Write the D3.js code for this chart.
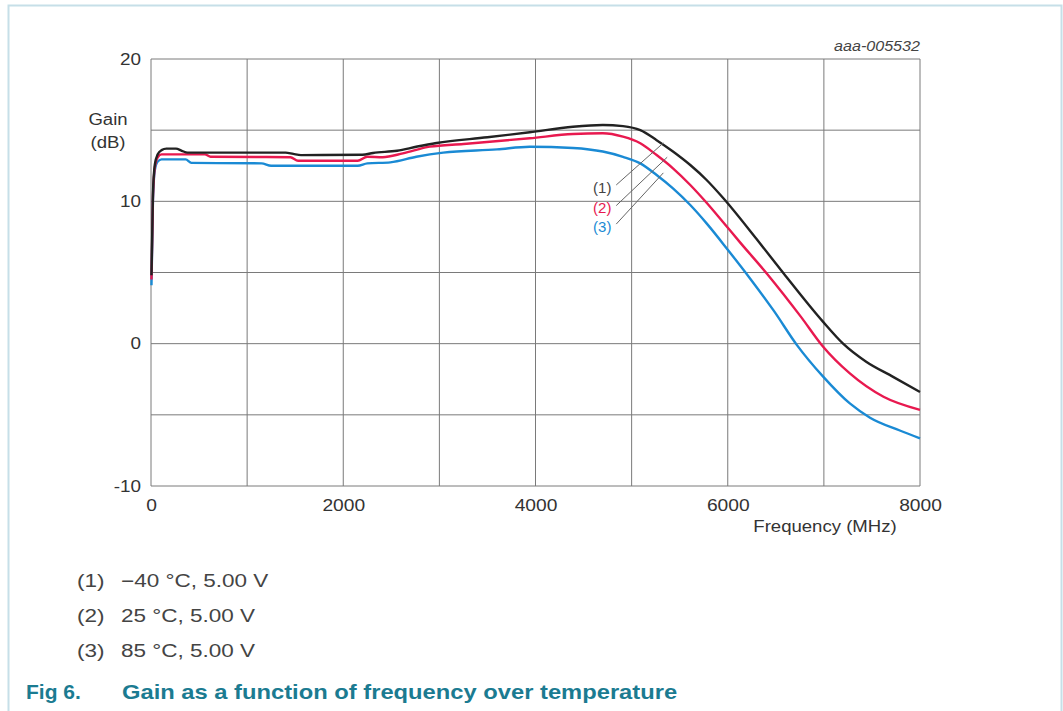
<!DOCTYPE html>
<html>
<head>
<meta charset="utf-8">
<script src="https://cdn.jsdelivr.net/npm/d3@7"></script>
<style>
  body { margin: 0; background: #fff; }
  text { font-family: "Liberation Sans", Arial, sans-serif; }
</style>
</head>
<body>
<div id="chart-div"></div>
<script>
// series (1) -40 C
const freq1 = [5, 20, 40, 70, 110, 160, 260, 320, 380, 1400, 1480, 1560, 2200, 2310, 2560, 2770, 2970, 3500, 3940, 4390, 4700, 4910, 5090, 5260, 5430, 5610, 5780, 5950, 6300, 6580, 6990, 7200, 7440, 7720, 8000];
const gain1 = [4.8, 10.5, 12.6, 13.3, 13.6, 13.7, 13.7, 13.55, 13.42, 13.42, 13.33, 13.25, 13.27, 13.4, 13.55, 13.85, 14.1, 14.5, 14.85, 15.24, 15.36, 15.28, 15.0, 14.3, 13.5, 12.55, 11.5, 10.25, 7.35, 4.95, 1.55, 0.0, -1.27, -2.33, -3.4];
// series (2) 25 C
const freq2 = [5, 20, 40, 70, 110, 560, 620, 1450, 1530, 2150, 2250, 2410, 2620, 2900, 3250, 3940, 4390, 4700, 4910, 5090, 5260, 5430, 5610, 5780, 5950, 6130, 6410, 6760, 6990, 7270, 7620, 8000];
const gain2 = [4.5, 10.2, 12.4, 13.1, 13.3, 13.3, 13.13, 13.1, 12.85, 12.85, 13.13, 13.1, 13.37, 13.84, 14.03, 14.43, 14.73, 14.78, 14.54, 14.08, 13.25, 12.32, 11.15, 9.9, 8.55, 7.1, 4.9, 1.9, -0.2, -2.09, -3.73, -4.65];
// series (3) 85 C
const freq3 = [5, 20, 40, 70, 110, 360, 420, 1150, 1250, 2150, 2250, 2490, 2760, 3040, 3600, 3940, 4390, 4700, 4910, 5090, 5260, 5430, 5610, 5780, 6000, 6230, 6480, 6720, 6990, 7270, 7480, 7790, 8000];
const gain3 = [4.1, 10.0, 12.2, 12.8, 12.95, 12.95, 12.7, 12.67, 12.5, 12.5, 12.67, 12.74, 13.13, 13.42, 13.65, 13.84, 13.75, 13.5, 13.13, 12.67, 11.85, 10.91, 9.74, 8.45, 6.6, 4.6, 2.3, -0.1, -2.3, -4.2, -5.2, -6.1, -6.65];

const seriesTags = ["(1)", "(2)", "(3)"];
const seriesColors = ["#222222", "#e8194f", "#1a8ad4"];
const legendText = ["\u221240 \u00b0C, 5.00 V", "25 \u00b0C, 5.00 V", "85 \u00b0C, 5.00 V"];
const tagAt = [[4790, 10.95], [4790, 9.5], [4790, 8.2]];
const leaderFrom = [[4840, 11.15], [4840, 9.7], [4840, 8.4]];
const leaderTo = [[5330, 14.1], [5370, 13.1], [5330, 12.0]];

const xTicks = [0, 2000, 4000, 6000, 8000];
const yTicks = [-10, 0, 10, 20];
const xGrid = [0, 1000, 2000, 3000, 4000, 5000, 6000, 7000, 8000];
const yGrid = [-10, -5, 0, 5, 10, 15, 20];

const width = 1063, height = 711;
const svg = d3.select('#chart-div').append('svg')
  .attr('width', width).attr('height', height);

// the source text is drawn a bit wider than the font, so widen it to match
const stretch = (sel, k) => sel.each(function() {
  const w = this.getComputedTextLength();
  d3.select(this).attr('textLength', w * k).attr('lengthAdjust', 'spacingAndGlyphs');
});

// page frame
svg.append('rect')
  .attr('x', 8.5).attr('y', 5.5)
  .attr('width', 1053).attr('height', 720)
  .attr('fill', 'none').attr('stroke', '#c6dfe8').attr('stroke-width', 2);

const xScale = d3.scaleLinear().domain([0, 8000]).range([151, 920]);
const yScale = d3.scaleLinear().domain([-10, 20]).range([486, 59]);

const g = svg.append('g');

// grid
g.selectAll('.vgrid').data(xGrid).enter().append('line')
  .attr('x1', d => xScale(d)).attr('x2', d => xScale(d))
  .attr('y1', yScale(-10)).attr('y2', yScale(20))
  .attr('stroke', '#7a7a7a').attr('stroke-width', 1);
g.selectAll('.hgrid').data(yGrid).enter().append('line')
  .attr('y1', d => yScale(d)).attr('y2', d => yScale(d))
  .attr('x1', xScale(0)).attr('x2', xScale(8000))
  .attr('stroke', '#7a7a7a').attr('stroke-width', 1);

// axes (labels only)
const xAxis = d3.axisBottom(xScale).tickValues(xTicks).tickSize(0).tickPadding(14).tickFormat(d3.format('d'));
const xAxisG = g.append('g').attr('transform', `translate(0,${yScale(-10)})`).call(xAxis);
xAxisG.select('.domain').remove();
xAxisG.selectAll('text').attr('font-size', '16px').attr('fill', '#333')
  .style('font-family', '"Liberation Sans", Arial, sans-serif');
stretch(xAxisG.selectAll('text'), 1.2);

const yAxis = d3.axisLeft(yScale).tickValues(yTicks).tickSize(0).tickPadding(10).tickFormat(d => d < 0 ? '-' + (-d) : d);
const yAxisG = g.append('g').attr('transform', `translate(${xScale(0)},0)`).call(yAxis);
yAxisG.select('.domain').remove();
yAxisG.selectAll('text').attr('font-size', '16px').attr('fill', '#333')
  .style('font-family', '"Liberation Sans", Arial, sans-serif');
stretch(yAxisG.selectAll('text'), 1.18);

// axis titles
const titles = g.append('g').attr('font-size', '16px').attr('fill', '#333');
titles.append('text').attr('x', 108).attr('y', 125).attr('text-anchor', 'middle').text('Gain');
titles.append('text').attr('x', 108).attr('y', 148).attr('text-anchor', 'middle').text('(dB)');
titles.append('text').attr('x', 825).attr('y', 532).attr('text-anchor', 'middle').text('Frequency (MHz)');
stretch(titles.selectAll('text'), 1.16);
const code = g.append('text').attr('x', 920).attr('y', 51).attr('text-anchor', 'end')
  .attr('font-size', '14px').attr('font-style', 'italic').attr('fill', '#444').text('aaa-005532');
stretch(code, 1.15);

// curves
const line = d3.line()
  .x(d => xScale(d[0])).y(d => yScale(d[1]))
  .curve(d3.curveMonotoneX);
const series = [d3.zip(freq1, gain1), d3.zip(freq2, gain2), d3.zip(freq3, gain3)];
// draw blue first, black on top
[2, 1, 0].forEach(i => {
  g.append('path').datum(series[i])
    .attr('d', line)
    .attr('fill', 'none')
    .attr('stroke', seriesColors[i])
    .attr('stroke-width', 2.4)
    .attr('stroke-linejoin', 'round');
});

// leaders and tags
g.selectAll('.leader').data(d3.range(3)).enter().append('line')
  .attr('x1', i => xScale(leaderFrom[i][0])).attr('y1', i => yScale(leaderFrom[i][1]))
  .attr('x2', i => xScale(leaderTo[i][0])).attr('y2', i => yScale(leaderTo[i][1]))
  .attr('stroke', '#666').attr('stroke-width', 1);
const tags = g.selectAll('.tag').data(d3.range(3)).enter().append('text')
  .attr('x', i => xScale(tagAt[i][0])).attr('y', i => yScale(tagAt[i][1]) + 5)
  .attr('text-anchor', 'end').attr('font-size', '15px')
  .attr('fill', i => i === 0 ? '#444' : seriesColors[i])
  .text(i => seriesTags[i]);

// legend below chart
const legend = svg.append('g').attr('font-size', '18px').attr('fill', '#444');
legend.selectAll('.ltag').data(d3.range(3)).enter().append('text')
  .attr('class', 'ltag')
  .attr('x', 77).attr('y', i => 587 + i * 35).text(i => seriesTags[i]);
legend.selectAll('.ltext').data(d3.range(3)).enter().append('text')
  .attr('class', 'ltext')
  .attr('x', 121).attr('y', i => 587 + i * 35).text(i => legendText[i]);
stretch(legend.selectAll('text'), 1.25);

// caption
const cap = svg.append('g').attr('font-size', '21px').attr('font-weight', 'bold').attr('fill', '#1b7b91');
cap.append('text').attr('x', 26).attr('y', 699).text('Fig 6.');
const capText = cap.append('text').attr('x', 122).attr('y', 699)
  .text('Gain as a function of frequency over temperature');
stretch(capText, 1.13);
</script>
</body>
</html>
